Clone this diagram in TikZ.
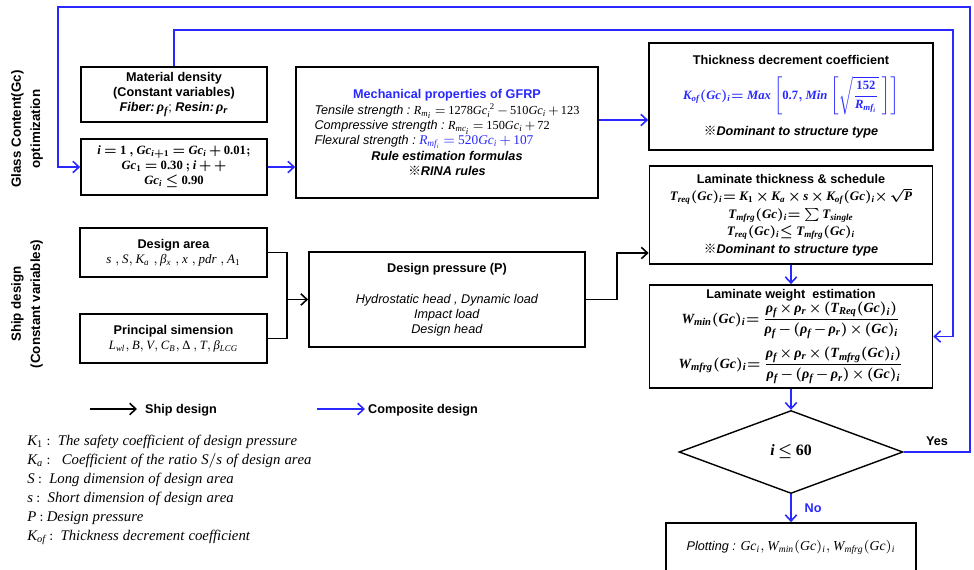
\RequirePackage{fix-cm}
\documentclass[tikz,border=0pt]{standalone}
\usepackage{amsmath}
\usepackage{fontspec}
\setmainfont{Liberation Sans}
\newfontfamily\cjk{Noto Sans CJK SC}
\newfontfamily\fmlserif[NFSSFamily=fmlser]{Liberation Serif}
\DeclareSymbolFont{serifit}{TU}{fmlser}{m}{it}
\SetSymbolFont{serifit}{bold}{TU}{fmlser}{\bfdefault}{it}
\DeclareSymbolFont{serifup}{TU}{fmlser}{m}{n}
\SetSymbolFont{serifup}{bold}{TU}{fmlser}{\bfdefault}{n}
\makeatletter
\AtBeginDocument{%
  \count@=`a
  \loop
    \Umathcode\count@=7 \symserifit\count@
    \Umathcode\numexpr\count@-32\relax=7 \symserifit\numexpr\count@-32\relax
    \ifnum\count@<`z \advance\count@\@ne\repeat
  \count@=`0
  \loop
    \Umathcode\count@=7 \symserifup\count@
    \ifnum\count@<`9 \advance\count@\@ne\repeat
  \Umathcode`.=0 \symserifup`.\relax
  \Umathchardef\rho=7 \symserifit "03C1
  \Umathchardef\beta=7 \symserifit "03B2
  \Umathchardef\Delta=7 \symserifup "0394
}
\makeatother
\usetikzlibrary{arrows.meta,shapes.geometric,calc}
\definecolor{compblue}{RGB}{40,40,255}
\newcommand{\refmark}{{\cjk ※}}
\newcommand{\txtsize}{\fontsize{7.2}{8.6}\selectfont}
\newcommand{\fml}[2]{{\fontsize{#1}{#1}\selectfont$#2$}}
\medmuskip=2.5mu plus 1mu minus 1mu
\thickmuskip=3.5mu plus 2mu

\begin{document}
\begin{tikzpicture}[
    x=0.02cm, y=-0.02cm,
    block/.style={rectangle, draw, line width=1pt, align=center, inner sep=1pt, font=\txtsize},
    mathblock/.style={block, font=\fontsize{7.2}{#1}\selectfont\boldmath},
    decision/.style={diamond, draw, line width=0.8pt, inner sep=0pt, minimum width=4.48cm, minimum height=1.66cm, font=\fontsize{9}{10}\selectfont\boldmath},
    shipline/.style={line width=0.9pt},
    shipflow/.style={shipline, -{Straight Barb[length=3.5pt,width=6.5pt]}},
    compflow/.style={compblue, line width=0.9pt, -{Straight Barb[length=3.5pt,width=6.5pt]}},
    sidelabel/.style={rotate=90, align=center, font=\fontsize{7.6}{11}\selectfont\bfseries},
    legendlabel/.style={font=\fontsize{7.2}{8.6}\selectfont\bfseries},
    legendtext/.style={anchor=west, inner sep=0pt, font=\fontsize{8.4}{9}\selectfont}
  ]
  \useasboundingbox (0,0) rectangle (974,569);

  % Side labels
  \node[sidelabel] (gclabel) at (27,129) {Glass Content(Gc)\\optimization};
  \node[sidelabel] (shiplabel) at (27,304) {Ship design\\(Constant variables)};

  % Glass content blocks
  \node[block, minimum width=3.72cm, minimum height=1.10cm] (mat) at (174,94.5)
    {\textbf{Material density}\\\textbf{(Constant variables)}\\{\bfseries\itshape Fiber:}\,{\boldmath\fml{8}{\rho_f}}; {\bfseries\itshape Resin:}\,{\boldmath\fml{8}{\rho_r}}};
  \node[mathblock=8.6pt, minimum width=3.72cm, minimum height=1.12cm] (loop) at (174,167)
    {\fml{7.2}{i=1\,,Gc_{i+1}=Gc_i+0.01;}\\\fml{7.2}{Gc_1=0.30\,;i++}\\\fml{7.2}{Gc_i\le 0.90}};
  \node[block, minimum width=6.04cm, minimum height=2.62cm] (mech) at (447,132.5)
    {{\color{compblue}\bfseries Mechanical properties of GFRP}\\
     \begin{tabular}{@{}l@{}}
     \textit{Tensile strength :}~\fml{7}{R_{m_i}=1278Gc_i^{\;2}-510Gc_i+123}\\
     \textit{Compressive strength :}~\fml{7}{R_{mc_i}=150Gc_i+72}\\
     \textit{Flexural strength :}~{\color{compblue}\fml{7.6}{R_{mf_i}=520Gc_i+107}}
     \end{tabular}\\
     {\bfseries\itshape Rule estimation formulas}\\
     {\bfseries\itshape\refmark RINA rules}};

  % Composite blocks
  \node[mathblock=8.6pt, minimum width=5.68cm, minimum height=2.14cm] (kof) at (791,96.5)
    {\textbf{Thickness decrement coefficient}\\[6pt]
     {\color{compblue}\fml{7.2}{K_{of}(Gc)_i\!= Max\left[0.7, Min\left[\sqrt{\dfrac{152}{R_{mf_i}}}\,\right]\right]}}\\[5pt]
     {\bfseries\itshape\refmark Dominant to structure type}};
  \node[mathblock=10pt, minimum width=5.66cm, minimum height=1.96cm] (thk) at (791,215)
    {\textbf{Laminate thickness \& schedule}\\
     \fml{7.4}{T_{req}(Gc)_i\!= K_1\times K_a\times s\times K_{of}(Gc)_i\!\times\sqrt{P}}\\
     \fml{7.4}{T_{mfrg}(Gc)_i\!= \textstyle\sum T_{single}}\\
     \fml{7.4}{T_{req}(Gc)_i\!\le T_{mfrg}(Gc)_i}\\
     {\bfseries\itshape\refmark Dominant to structure type}};
  \node[mathblock=8.6pt, minimum width=5.66cm, minimum height=2.06cm] (wgt) at (791,336.5)
    {\textbf{Laminate weight\ \ estimation}\\[-0.5pt]
     \fml{8}{W_{min}(Gc)_i\!=\dfrac{\rho_f\times\rho_r\times(T_{Req}(Gc)_i)}{\rho_f-(\rho_f-\rho_r)\times(Gc)_i}}\\[4pt]
     \fml{8}{W_{mfrg}(Gc)_i\!=\dfrac{\rho_f\times\rho_r\times(T_{mfrg}(Gc)_i)}{\rho_f-(\rho_f-\rho_r)\times(Gc)_i}}};
  \node[decision] (dec) at (791,452) {$i\le 60$};
  \node[block, minimum width=5.0cm, minimum height=0.98cm] (plot) at (791,547.5)
    {\textit{Plotting :} \fml{7.8}{Gc_i, W_{min}(Gc)_i, W_{mfrg}(Gc)_i}};

  % Ship design blocks
  \node[block, minimum width=3.74cm, minimum height=0.98cm] (area) at (173.5,252.5)
    {\textbf{Design area}\\\fml{7.4}{s\ ,S, K_a\ ,\beta_x\ , x\ , pdr\ , A_1}};
  \node[block, minimum width=3.74cm, minimum height=0.98cm] (prin) at (173.5,338.5)
    {\textbf{Principal simension}\\\fml{7.2}{L_{wl}, B, V, C_B, \Delta\,, T, \beta_{LCG}}};
  \node[block, minimum width=5.52cm, minimum height=1.90cm] (pres) at (447,299.5)
    {\textbf{Design pressure (P)}\\[9pt]\textit{Hydrostatic head , Dynamic load}\\\textit{Impact load}\\\textit{Design head}};

  % Ship design connectors
  \coordinate (junc) at ($(pres.west)+(-21,0)$);
  \draw[shipline] (area.east) -| (junc) |- (prin.east);
  \draw[shipflow] (junc) -- (pres.west);
  \draw[shipflow] (pres.east) -- ++(31,0) |- ($(thk.west)+(0,38)$);

  % Composite connectors
  \draw[compflow] (loop.east) -- (loop.east -| mech.west);
  \draw[compflow] ($(mech.east)+(0,-12.5)$) coordinate (m2k) -- (m2k -| kof.west);
  \draw[compflow] (thk.south) -- (wgt.north);
  \draw[compflow] (wgt.south) -- (dec.north);
  \draw[compflow] (dec.south) -- (plot.north) node[midway, right=4pt, legendlabel] (nolbl) {No};
  \coordinate (innerTR) at (953,30);
  \draw[compflow] (mat.north) |- (innerTR) |- (wgt.east);
  \coordinate (outerTR) at (970,7);
  \coordinate (outerTL) at (58,7);
  \draw[compflow] (dec.east) -| (outerTR) -- (outerTL) |- (loop.west);
  \node[legendlabel] (yeslbl) at (937,441) {Yes};

  % Legend
  \coordinate (shipA) at (90,409);
  \coordinate (shipB) at (137,409);
  \draw[shipflow] (shipA) -- (shipB);
  \node[legendlabel] (shiplbl) at (181,410) {Ship design};
  \coordinate (compA) at (317,409);
  \coordinate (compB) at (365,409);
  \draw[compflow] (compA) -- (compB);
  \node[legendlabel] (complbl) at (423,410) {Composite design};

  % Symbol list
  \node[legendtext] (def1) at (27,442) {$K_1:\ The\ safety\ coefficient\ of\ design\ pressure$};
  \node[legendtext] (def2) at (27,461) {$K_a:\ \ Coefficient\ of\ the\ ratio\ S/s\ of\ design\ area$};
  \node[legendtext] (def3) at (27,480) {$S:\ Long\ dimension\ of\ design\ area$};
  \node[legendtext] (def4) at (27,499) {$s:\ Short\ dimension\ of\ design\ area$};
  \node[legendtext] (def5) at (27,518) {$P:Design\ pressure$};
  \node[legendtext] (def6) at (27,537) {$K_{of}:\ Thickness\ decrement\ coefficient$};
\end{tikzpicture}
\end{document}
